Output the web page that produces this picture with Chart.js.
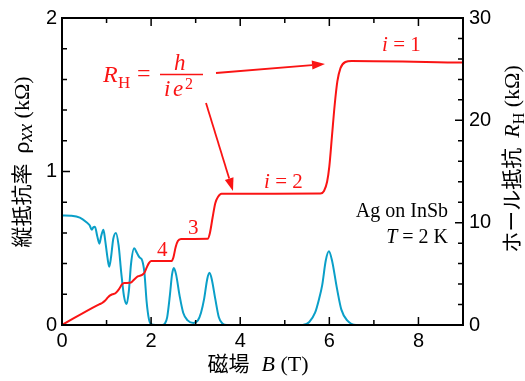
<!DOCTYPE html>
<html>
<head>
<meta charset="utf-8">
<script src="https://cdn.jsdelivr.net/npm/chart.js@4.4.0/dist/chart.umd.min.js"></script>
<style>
  html, body { margin: 0; padding: 0; background: #fff; }
</style>
</head>
<body>
<canvas id="chart" width="525" height="381"></canvas>
<script>
// rho_xx (kOhm) vs B (T)
const fieldB = [0, 0.2, 0.4, 0.55, 0.62, 0.67, 0.70, 0.74, 0.79, 0.84, 0.88, 0.93, 0.97, 1.02, 1.06, 1.10, 1.15, 1.21, 1.27, 1.33, 1.39, 1.45, 1.50, 1.55, 1.62, 1.68, 1.74, 1.80, 1.85, 1.90, 1.95, 2.0, 2.1, 2.25, 2.31, 2.36, 2.42, 2.47, 2.51, 2.56, 2.64, 2.72, 2.82, 2.95, 3.05, 3.12, 3.19, 3.26, 3.31, 3.36, 3.44, 3.52, 3.6, 3.7, 5.4, 5.55, 5.68, 5.77, 5.84, 5.92, 5.99, 6.06, 6.17, 6.27, 6.4, 6.6, 9];
const rhoXX = [0.714, 0.712, 0.70, 0.67, 0.65, 0.62, 0.635, 0.64, 0.58, 0.53, 0.58, 0.62, 0.55, 0.44, 0.38, 0.44, 0.56, 0.60, 0.52, 0.34, 0.19, 0.136, 0.22, 0.40, 0.50, 0.47, 0.44, 0.42, 0.34, 0.15, 0.04, 0.005, 0, 0, 0.01, 0.05, 0.19, 0.33, 0.372, 0.33, 0.19, 0.08, 0.03, 0.013, 0.03, 0.08, 0.17, 0.30, 0.34, 0.30, 0.17, 0.05, 0.01, 0, 0, 0.02, 0.08, 0.17, 0.26, 0.42, 0.48, 0.42, 0.24, 0.10, 0.03, 0, 0];

// R_H (kOhm) vs B (T)
const fieldH = [0, 0.8, 0.85, 0.9, 0.97, 1.03, 1.08, 1.13, 1.2, 1.28, 1.35, 1.4, 1.55, 1.62, 1.7, 1.8, 1.85, 1.9, 1.95, 2.0, 2.46, 2.5, 2.55, 2.6, 2.67, 3.27, 3.32, 3.38, 3.44, 3.5, 3.58, 5.8, 5.88, 5.95, 6.0, 6.06, 6.12, 6.18, 6.25, 6.36, 6.5, 9];
const hallR = [0, 1.95, 2.05, 2.15, 2.4, 2.7, 2.9, 3.0, 3.1, 3.5, 4.0, 4.1, 4.15, 4.45, 4.75, 4.9, 5.1, 5.6, 6.05, 6.25, 6.26, 6.6, 7.6, 8.2, 8.4, 8.42, 9.0, 10.5, 11.9, 12.5, 12.82, 12.85, 13.1, 14.0, 15.5, 18.5, 21.5, 23.8, 25.1, 25.7, 25.8, 25.65];

const xTicks = [0, 2, 4, 6, 8];
const leftTicks = [0, 1, 2];
const rightTicks = [0, 10, 20, 30];

const RED = 'rgb(250,20,20)';
const BLUE = '#0a9fc8';
const SANS = '"Liberation Sans", Arial, sans-serif';
const SERIF = '"Liberation Serif", "Times New Roman", serif';
const CJK = '"Noto Sans CJK JP", sans-serif';

function drawRun(ctx, segs, cx, cy, angle) {
  ctx.save();
  ctx.translate(cx, cy);
  ctx.rotate(angle);
  let w = 0;
  segs.forEach(s => { ctx.font = s.f; s.w = s.gap !== undefined ? s.gap : ctx.measureText(s.t).width; w += s.w; });
  let x = -w / 2;
  ctx.textBaseline = 'alphabetic';
  ctx.textAlign = 'left';
  segs.forEach(s => {
    if (s.t) { ctx.font = s.f; ctx.fillText(s.t, x, 7 + (s.dy || 0)); }
    x += s.w;
  });
  ctx.restore();
}

function arrow(ctx, x1, y1, x2, y2) {
  const ang = Math.atan2(y2 - y1, x2 - x1);
  const L = 13, W = 4.5;
  const bx = x2 - L * Math.cos(ang), by = y2 - L * Math.sin(ang);
  ctx.beginPath();
  ctx.moveTo(x1, y1);
  ctx.lineTo(bx, by);
  ctx.stroke();
  ctx.beginPath();
  ctx.moveTo(x2, y2);
  ctx.lineTo(bx - W * Math.sin(ang), by + W * Math.cos(ang));
  ctx.lineTo(bx + W * Math.sin(ang), by - W * Math.cos(ang));
  ctx.closePath();
  ctx.fill();
}

const deco = {
  id: 'deco',
  afterDraw(chart) {
    const { ctx, chartArea: a, scales } = chart;
    const x = scales.x, y = scales.y, y2 = scales.y2;
    ctx.save();
    ctx.strokeStyle = '#000';
    ctx.lineWidth = 2;
    ctx.strokeRect(a.left, a.top, a.right - a.left, a.bottom - a.top);

    // inward ticks
    ctx.lineWidth = 1.5;
    ctx.beginPath();
    for (let b = 1; b < 9; b++) {
      const px = x.getPixelForValue(b);
      const len = b % 2 === 0 ? 8 : 5;
      ctx.moveTo(px, a.bottom); ctx.lineTo(px, a.bottom - len);
      ctx.moveTo(px, a.top); ctx.lineTo(px, a.top + len);
    }
    for (let i = 1; i < 10; i++) {
      const py = y.getPixelForValue(i / 5);
      const len = i % 5 === 0 ? 8 : 5;
      ctx.moveTo(a.left, py); ctx.lineTo(a.left + len, py);
    }
    for (let v = 2; v < 30; v += 2) {
      const py = y2.getPixelForValue(v);
      const len = v % 10 === 0 ? 8 : 5;
      ctx.moveTo(a.right, py); ctx.lineTo(a.right - len, py);
    }
    ctx.stroke();

    // axis titles
    ctx.fillStyle = '#000';
    drawRun(ctx, [
      { t: '縦抵抗率', f: '21px ' + CJK },
      { gap: 10 },
      { t: 'ρ', f: '21px ' + SANS },
      { t: 'xx', f: 'italic 20px ' + SERIF, dy: 3 },
      { t: ' (kΩ)', f: '22px ' + SERIF }
    ], 22, 162, -Math.PI / 2);
    drawRun(ctx, [
      { t: 'ホール抵抗', f: '21px ' + CJK },
      { gap: 10 },
      { t: 'R', f: 'italic 22px ' + SERIF },
      { t: 'H', f: '16px ' + SERIF, dy: 5 },
      { t: ' (kΩ)', f: '22px ' + SERIF }
    ], 512, 159, -Math.PI / 2);
    drawRun(ctx, [
      { t: '磁場', f: '21px ' + CJK },
      { gap: 12 },
      { t: 'B', f: 'italic 22px ' + SERIF },
      { t: ' (T)', f: '22px ' + SERIF }
    ], 258, 364, 0);

    // sample note
    ctx.textAlign = 'right';
    ctx.font = '20px ' + SERIF;
    ctx.fillText('Ag on InSb', 448, 217);
    const rest = ' = 2 K';
    ctx.fillText(rest, 448, 243);
    const rw = ctx.measureText(rest).width;
    ctx.font = 'italic 20px ' + SERIF;
    ctx.fillText('T', 448 - rw, 243);

    // red annotations
    ctx.fillStyle = RED;
    ctx.strokeStyle = RED;
    ctx.textAlign = 'left';
    ctx.font = 'italic 24px ' + SERIF;
    ctx.fillText('R', 103, 82);
    ctx.font = '17px ' + SERIF;
    ctx.fillText('H', 118, 88);
    ctx.font = '24px ' + SERIF;
    ctx.fillText('=', 137, 81);
    ctx.font = 'italic 23px ' + SERIF;
    ctx.fillText('h', 174, 70);
    ctx.fillText('i', 164, 96);
    ctx.fillText('e', 173, 96);
    ctx.font = '16px ' + SERIF;
    ctx.fillText('2', 185, 89);
    ctx.lineWidth = 1.5;
    ctx.beginPath(); ctx.moveTo(160, 74.5); ctx.lineTo(203, 74.5); ctx.stroke();

    ctx.font = '21px ' + SERIF;
    ctx.fillText('4', 157, 256);
    ctx.fillText('3', 188, 234);
    ctx.font = 'italic 21px ' + SERIF;
    ctx.fillText('i', 264, 188);
    ctx.fillText('i', 382, 51);
    ctx.font = '21px ' + SERIF;
    ctx.fillText(' = 2', 270, 188);
    ctx.fillText(' = 1', 388, 51);

    ctx.lineWidth = 1.8;
    arrow(ctx, 216, 73, 325, 64);
    arrow(ctx, 206, 103, 233, 191);
    ctx.restore();
  }
};

const ctx = document.getElementById('chart').getContext('2d');
const myChart = new Chart(ctx, {
  type: 'scatter',
  data: {
    datasets: [{
      label: 'R_H',
      data: fieldH.map((b, i) => ({ x: b, y: hallR[i] })),
      yAxisID: 'y2',
      showLine: true,
      borderColor: RED,
      borderWidth: 2,
      pointRadius: 0,
      cubicInterpolationMode: 'monotone'
    }, {
      label: 'rho_xx',
      data: fieldB.map((b, i) => ({ x: b, y: rhoXX[i] })),
      yAxisID: 'y',
      showLine: true,
      borderColor: BLUE,
      borderWidth: 2,
      pointRadius: 0,
      cubicInterpolationMode: 'monotone'
    }]
  },
  options: {
    responsive: false,
    animation: false,
    events: [],
    layout: { padding: { top: 17, left: 0, right: 0, bottom: 0 } },
    plugins: { legend: { display: false }, tooltip: { enabled: false } },
    scales: {
      x: {
        type: 'linear', min: 0, max: 9,
        afterBuildTicks: s => { s.ticks = xTicks.map(v => ({ value: v })); },
        afterFit: s => { s.height = 56; },
        grid: { display: false, drawTicks: false },
        border: { display: false },
        ticks: { color: '#000', font: { size: 20, family: SANS }, padding: 4, maxRotation: 0 }
      },
      y: {
        position: 'left', min: 0, max: 2,
        afterBuildTicks: s => { s.ticks = leftTicks.map(v => ({ value: v })); },
        afterFit: s => { s.width = 62; },
        grid: { display: false, drawTicks: false },
        border: { display: false },
        ticks: { color: '#000', font: { size: 20, family: SANS }, padding: 5 }
      },
      y2: {
        position: 'right', min: 0, max: 30,
        afterBuildTicks: s => { s.ticks = rightTicks.map(v => ({ value: v })); },
        afterFit: s => { s.width = 62; },
        grid: { display: false, drawTicks: false },
        border: { display: false },
        ticks: { color: '#000', font: { size: 20, family: SANS }, padding: 6 }
      }
    }
  },
  plugins: [deco]
});
</script>
</body>
</html>
